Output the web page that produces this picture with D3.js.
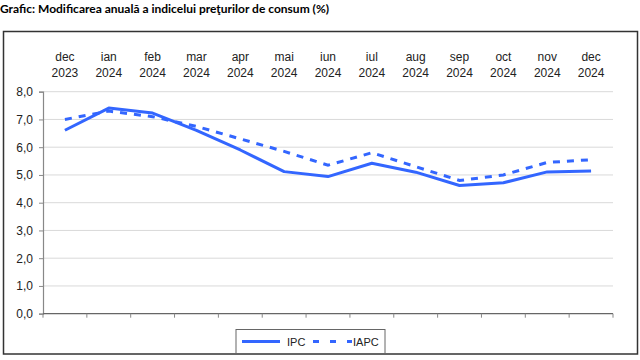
<!DOCTYPE html>
<html><head><meta charset="utf-8">
<script src="https://cdn.jsdelivr.net/npm/d3@7"></script>
<style>body{margin:0;background:#fff}svg{display:block}</style>
</head><body>
<svg id="c" width="640" height="360"></svg>
<script>
const months = ["dec","ian","feb","mar","apr","mai","iun","iul","aug","sep","oct","nov","dec"];
const years  = ["2023","2024","2024","2024","2024","2024","2024","2024","2024","2024","2024","2024","2024"];
const ipc  = [6.61,7.41,7.23,6.61,5.90,5.12,4.94,5.42,5.10,4.62,4.72,5.11,5.14];
const iapc = [7.0,7.3,7.1,6.75,6.3,5.85,5.35,5.8,5.3,4.8,5.0,5.45,5.55];
const yTicks = [0,1,2,3,4,5,6,7,8];
const seriesNames = ["IPC","IAPC"];

const svg = d3.select("#c");
const blue = "#3366ff";
const keys = months.map((m,i)=>i);
const x = d3.scaleBand().domain(keys).range([43,613]);
const y = d3.scaleLinear().domain([0,8]).range([313.7,91.7]);

svg.append("text").attr("x",0).attr("y",13).attr("font-family","Lato, 'Open Sans', sans-serif")
  .attr("font-weight","bold").attr("font-size",12).attr("fill","#000")
  .text("Grafic: Modificarea anuală a indicelui preţurilor de consum (%)");

// frame
svg.append("rect").attr("x",3.5).attr("y",31.5).attr("width",634).attr("height",322.5)
  .attr("fill","none").attr("stroke","#333").attr("stroke-width",1.5);

// gridlines
svg.append("g").selectAll("line").data(yTicks.slice(1)).join("line")
  .attr("x1",43).attr("x2",613).attr("y1",d=>y(d)).attr("y2",d=>y(d))
  .attr("stroke","#d9d9d9").attr("stroke-width",1);

// y axis
const ya = svg.append("g").attr("transform","translate(43,0)")
  .call(d3.axisLeft(y).tickValues(yTicks).tickSize(4).tickPadding(6).tickFormat(d=>d3.format(".1f")(d).replace(".",",")));
ya.select(".domain").attr("stroke","#888").attr("stroke-width",1.2);
ya.selectAll(".tick line").attr("stroke","#888");
ya.selectAll("text").attr("font-family","Liberation Sans, Arial, sans-serif").attr("font-size",12).attr("fill","#222");

// x axis baseline + ticks at band edges
svg.append("line").attr("x1",43).attr("x2",613).attr("y1",y(0)).attr("y2",y(0)).attr("stroke","#666").attr("stroke-width",1.2);
const edges = keys.map(k=>x(k)).concat([x(keys[keys.length-1])+x.bandwidth()]);
svg.append("g").selectAll("line").data(edges).join("line")
  .attr("x1",d=>d).attr("x2",d=>d).attr("y1",y(0)).attr("y2",y(0)+4).attr("stroke","#888");

// category labels on top
const lab = svg.append("g").attr("font-family","Liberation Sans, Arial, sans-serif").attr("font-size",12).attr("fill","#222").attr("text-anchor","middle");
lab.selectAll("text.m").data(keys).join("text").attr("class","m")
  .attr("x",d=>x(d)+x.bandwidth()/2).attr("y",60.5).text(d=>months[d]);
lab.selectAll("text.yr").data(keys).join("text").attr("class","yr")
  .attr("x",d=>x(d)+x.bandwidth()/2).attr("y",76.5).text(d=>years[d]);

const line = d3.line().x((d,i)=>x(i)+x.bandwidth()/2).y(d=>y(d));
svg.append("path").datum(iapc).attr("d",line).attr("fill","none").attr("stroke",blue)
  .attr("stroke-width",3).attr("stroke-dasharray","7,7");
svg.append("path").datum(ipc).attr("d",line).attr("fill","none").attr("stroke",blue)
  .attr("stroke-width",3).attr("stroke-linejoin","round");

// legend
const lg = svg.append("g");
lg.append("rect").attr("x",236).attr("y",329.5).attr("width",149).attr("height",24)
  .attr("fill","#fff").attr("stroke","#666").attr("stroke-width",1);
lg.append("line").attr("x1",242).attr("x2",280).attr("y1",341.5).attr("y2",341.5).attr("stroke",blue).attr("stroke-width",3);
lg.append("line").attr("x1",313).attr("x2",352).attr("y1",341.5).attr("y2",341.5).attr("stroke",blue).attr("stroke-width",3).attr("stroke-dasharray","6,11");
lg.selectAll("text").data(seriesNames).join("text")
  .attr("x",(d,i)=>i?353:287).attr("y",345.5)
  .attr("font-family","Liberation Sans, Arial, sans-serif").attr("font-size",11).attr("fill","#222").text(d=>d);
</script>
</body></html>
